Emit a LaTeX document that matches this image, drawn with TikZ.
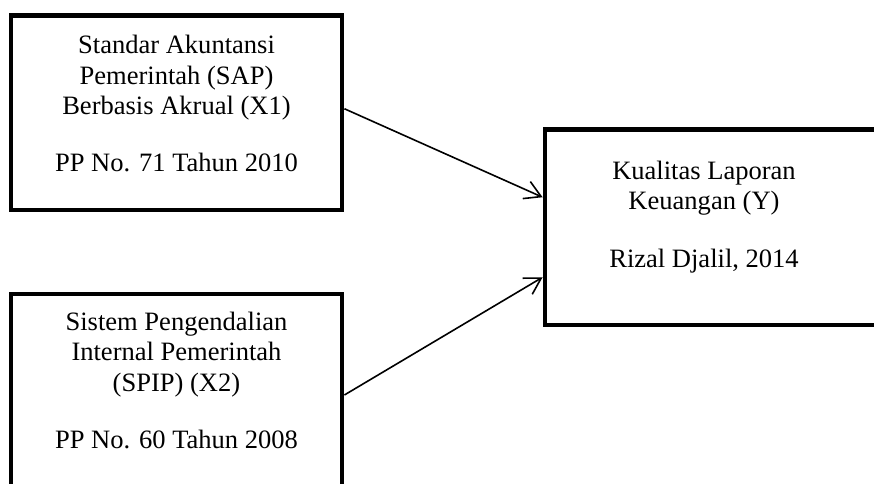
\documentclass[tikz,border=0pt]{standalone}
\usepackage{fontspec}
\setmainfont{Liberation Serif}
\usetikzlibrary{arrows.meta,calc}

\begin{document}
\begin{tikzpicture}[x=0.75pt,y=0.75pt,yscale=-1,xscale=1,
  kotak/.style={draw, line width=3.6pt, inner sep=0pt},
  teks/.style={align=center, inner sep=0pt, anchor=north, font=\fontsize{19.9}{22.9}\selectfont},
  panah/.style={line width=1.2pt, -{Straight Barb[length=12pt,width=14pt]}}]
\useasboundingbox (0,0) rectangle (874,484);
\clip (0,0) rectangle (874,484);

%Shape: Rectangle
\node [kotak, minimum width=248.25pt, minimum height=145.9pt] (sap) at (176.5,112.75) {};
%Shape: Rectangle
\node [kotak, minimum width=248.25pt, minimum height=151.5pt] (spip) at (176.5,395) {};
%Shape: Rectangle
\node [kotak, minimum width=251.25pt, minimum height=146.6pt] (lapkeu) at (712.5,227.25) {};

% Text Node
\node [teks] (sapteks) at (176.5,35) {Standar Akuntansi\\Pemerintah (SAP)\\Berbasis Akrual (X1)\\[20pt]PP No. 71 Tahun 2010};
% Text Node
\node [teks] (spipteks) at (176.5,311.7) {Sistem Pengendalian\\Internal Pemerintah\\(SPIP) (X2)\\[20pt]PP No. 60 Tahun 2008};
% Text Node
\node [teks] (lapkeuteks) at (704,160.7) {Kualitas Laporan\\Keuangan (Y)\\[20pt]Rizal Djalil, 2014};

%Straight Lines
\draw [panah] ($(sap.east)+(0,-4)$) -- ($(lapkeu.west)+(0,-30)$);
%Straight Lines
\draw [panah] (spip.east) -- ($(lapkeu.west)+(0,50)$);

\end{tikzpicture}
\end{document}
